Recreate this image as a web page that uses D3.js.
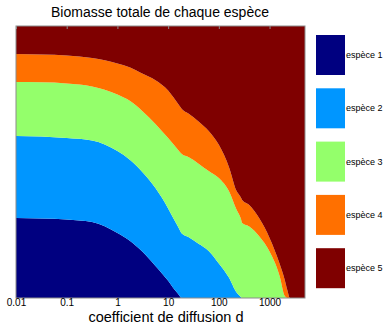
<!DOCTYPE html>
<html>
<head>
<meta charset="utf-8">
<script src="https://cdn.jsdelivr.net/npm/d3@7"></script>
<style>
  body { margin: 0; background: #fff; }
  svg { font-family: "Liberation Sans", Arial, sans-serif; display: block; }
</style>
</head>
<body>
<svg width="388" height="325"></svg>
<script>
// diffusion coefficient d (log axis)
const dValues = [0.01, 0.0316, 0.1, 0.316, 1, 1.78, 3.16, 5.62, 10, 12.6, 15.8, 18.6, 25.1, 39.8,
    63.1, 100, 158, 224, 269, 288, 398, 631, 1000, 1585, 1995, 2239, 2512, 5000];
// share of total biomass of each species
const espece1 = [0.294, 0.292, 0.289, 0.279, 0.239, 0.210, 0.169, 0.118, 0.063, 0.037, 0.015, 0, 0, 0,
    0, 0, 0, 0, 0, 0, 0, 0, 0, 0, 0, 0, 0, 0];
const espece2 = [0.302, 0.302, 0.299, 0.300, 0.301, 0.297, 0.292, 0.286, 0.266, 0.257, 0.246, 0.237, 0.224, 0.199,
    0.173, 0.127, 0.075, 0.020, 0.005, 0, 0, 0, 0, 0, 0, 0, 0, 0];
const espece3 = [0.198, 0.199, 0.201, 0.199, 0.208, 0.217, 0.225, 0.236, 0.259, 0.272, 0.283, 0.292, 0.294, 0.295,
    0.294, 0.314, 0.318, 0.304, 0.289, 0.276, 0.263, 0.226, 0.171, 0.080, 0.007, 0, 0, 0];
const espece4 = [0.103, 0.102, 0.103, 0.104, 0.114, 0.123, 0.138, 0.161, 0.175, 0.173, 0.169, 0.166, 0.160, 0.155,
    0.147, 0.122, 0.089, 0.069, 0.077, 0.084, 0.079, 0.066, 0.050, 0.045, 0.059, 0.029, 0, 0];
const espece5 = [0.103, 0.105, 0.108, 0.118, 0.138, 0.153, 0.176, 0.199, 0.237, 0.261, 0.287, 0.305, 0.322, 0.351,
    0.386, 0.437, 0.518, 0.607, 0.629, 0.640, 0.658, 0.708, 0.779, 0.875, 0.934, 0.971, 1, 1];
const species = ['espèce 1', 'espèce 2', 'espèce 3', 'espèce 4', 'espèce 5'];
const colors = ['#000080', '#0096ff', '#94ff6b', '#ff7000', '#7f0000'];
const tickValues = [0.01, 0.1, 1, 10, 100, 1000];
const tickLabels = ['0.01', '0.1', '1', '10', '100', '1000'];

const series = [espece1, espece2, espece3, espece4, espece5];
const rows = dValues.map((d, i) => {
    const r = { d: d };
    species.forEach((s, k) => { r[s] = series[k][i]; });
    return r;
});

const svg = d3.select('svg');
const plotL = 16, plotR = 305, plotT = 26, plotB = 298;

const x = d3.scaleLog().domain([0.01, 5000]).range([plotL, plotR]);
const y = d3.scaleLinear().domain([0, 1]).range([plotB, plotT]);

const stacked = d3.stack().keys(species)(rows);

const area = d3.area()
    .x(r => x(r.data.d))
    .y0(r => y(r[0]))
    .y1(r => y(r[1]))
    .curve(d3.curveMonotoneX);

svg.append('g')
    .selectAll('path')
    .data(stacked)
    .enter()
    .append('path')
    .attr('d', area)
    .attr('fill', (s, i) => colors[i]);

// frame
svg.append('rect')
    .attr('x', plotL).attr('y', plotT)
    .attr('width', plotR - plotL).attr('height', plotB - plotT)
    .attr('fill', 'none').attr('stroke', '#8c8c8c').attr('stroke-width', 1);

// small ticks on top edge
svg.append('g')
    .attr('transform', `translate(0,${plotT})`)
    .call(d3.axisTop(x).tickValues(tickValues).tickSize(-3).tickFormat(''))
    .call(g => g.select('.domain').remove())
    .call(g => g.selectAll('line').attr('stroke', '#8c8c8c'));

// bottom labels
svg.append('g')
    .attr('transform', `translate(0,${plotB})`)
    .call(d3.axisBottom(x).tickValues(tickValues).tickSize(0).tickPadding(1)
        .tickFormat((v, i) => tickLabels[i]))
    .call(g => g.select('.domain').remove())
    .call(g => g.selectAll('text').attr('font-size', 10).attr('fill', '#000')
        .attr('font-family', '"Liberation Sans", Arial, sans-serif'));

svg.append('text')
    .attr('x', 160).attr('y', 17)
    .attr('text-anchor', 'middle')
    .attr('font-size', 14)
    .text('Biomasse totale de chaque espèce');

svg.append('text')
    .attr('x', 166).attr('y', 322)
    .attr('text-anchor', 'middle')
    .attr('font-size', 14.5)
    .text('coefficient de diffusion d');

// legend
const legend = svg.append('g')
    .selectAll('g')
    .data(species)
    .enter()
    .append('g')
    .attr('transform', (s, i) => `translate(316,${35 + i * 53.3})`);

legend.append('rect')
    .attr('width', 29).attr('height', 40)
    .attr('fill', (s, i) => colors[i]);

legend.append('text')
    .attr('x', 30).attr('y', 23)
    .attr('font-size', 9)
    .text(s => s);
</script>
</body>
</html>
